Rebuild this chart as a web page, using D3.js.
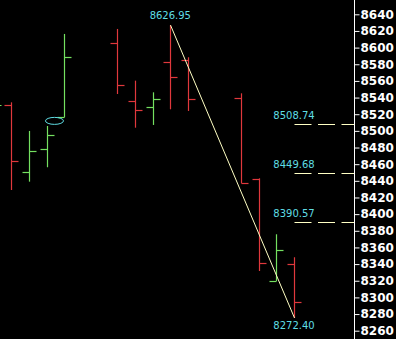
<!DOCTYPE html>
<html><head><meta charset="utf-8">
<script src="https://cdn.jsdelivr.net/npm/d3@7"></script>
<style>html,body{margin:0;padding:0;background:#000;overflow:hidden}</style>
</head><body>
<svg id="c" width="396" height="339"></svg>
<script>
// OHLC bars (slot index along the time axis; gaps are missing sessions)
const slots  = [-1, 0, 1, 2, 3, 6, 7, 8, 9, 10, 13, 14, 15, 16];
const opens  = [8500, 8530.7, 8450.2, 8477.9, 8517.0, 8605.2, 8535.9, 8528.3, 8582.4, 8584.8, 8539.1, 8441.8, 8319.7, 8340.1];
const highs  = [8545, 8534.3, 8499.9, 8505.9, 8616.4, 8622.4, 8560.3, 8546.3, 8626.95, 8588.4, 8545.1, 8443.0, 8375.8, 8348.2];
const lows   = [8490, 8429.0, 8439.0, 8456.3, 8516.3, 8544.3, 8503.8, 8507.1, 8525.9, 8523.9, 8437.0, 8331.7, 8319.7, 8275.3];
const closes = [8530.7, 8463.5, 8475.5, 8494.7, 8588.4, 8555.5, 8524.7, 8537.9, 8564.3, 8538.3, 8437.8, 8341.7, 8356.9, 8294.1];

// Annotations
const swingHigh = {slot: 9, label: "8626.95"};
const swingLow  = {slot: 16, label: "8272.40"};
const levels      = [8508.74, 8449.68, 8390.57];
const levelLabels = ["8508.74", "8449.68", "8390.57"];
const ellipse = {slot: 2.5, value: 8512};

// Y axis ticks
const yTicks = d3.range(8260, 8641, 20);

const svg = d3.select("#c");
svg.append("rect").attr("width", 396).attr("height", 339).attr("fill", "#000");

const x = d3.scaleLinear().domain([0, 16]).range([11.3, 294]);
const y = d3.scaleLinear().domain([8260, 8640]).range([330.7, 14.3]);
const px = v => Math.round(v) + 0.5;

const RED = "#e0383c", GREEN = "#74e060", CYAN = "#5fdde4", PALE = "#ffffc4";
const tick = 7;

const bars = slots.map((s, i) => ({s, o: opens[i], h: highs[i], l: lows[i], c: closes[i]}));
const g = svg.append("g");
bars.forEach(b => {
  const col = b.c >= b.o ? GREEN : RED;
  const cx = px(x(b.s));
  g.append("line").attr("x1", cx).attr("x2", cx).attr("y1", y(b.h)).attr("y2", y(b.l))
    .attr("stroke", col).attr("stroke-width", 1.2);
  g.append("line").attr("x1", cx - tick).attr("x2", cx).attr("y1", px(y(b.o))).attr("y2", px(y(b.o)))
    .attr("stroke", col).attr("stroke-width", 1.2);
  g.append("line").attr("x1", cx).attr("x2", cx + tick).attr("y1", px(y(b.c))).attr("y2", px(y(b.c)))
    .attr("stroke", col).attr("stroke-width", 1.2);
});

// ellipse marker
svg.append("ellipse").attr("cx", x(ellipse.slot) - 1).attr("cy", y(ellipse.value))
  .attr("rx", 9).attr("ry", 3.5).attr("fill", "none").attr("stroke", CYAN).attr("stroke-width", 1);

// swing line
const hb = bars.find(b => b.s === swingHigh.slot), lb = bars.find(b => b.s === swingLow.slot);
svg.append("line").attr("x1", px(x(hb.s))).attr("y1", y(hb.h)).attr("x2", px(x(lb.s))).attr("y2", y(lb.l))
  .attr("stroke", PALE).attr("stroke-width", 1);

const lblFont = "DejaVu Sans, sans-serif";
svg.append("text").attr("x", x(hb.s)).attr("y", y(hb.h) - 5.7).attr("text-anchor", "middle")
  .attr("font-family", lblFont).attr("font-size", 10).attr("fill", CYAN).text(swingHigh.label);
svg.append("text").attr("x", x(lb.s)).attr("y", y(lb.l) + 11.5).attr("text-anchor", "middle")
  .attr("font-family", lblFont).attr("font-size", 10).attr("fill", CYAN).text(swingLow.label);

// retracement levels
const axisX = 354.5;
levels.forEach((v, i) => {
  svg.append("line").attr("x1", px(x(lb.s))).attr("x2", axisX).attr("y1", px(y(v))).attr("y2", px(y(v)))
    .attr("stroke", PALE).attr("stroke-width", 1).attr("stroke-dasharray", "17,6.5");
  svg.append("text").attr("x", x(lb.s)).attr("y", y(v) - 4.5).attr("text-anchor", "middle")
    .attr("font-family", lblFont).attr("font-size", 10).attr("fill", CYAN).text(levelLabels[i]);
});

// right axis
const axis = d3.axisRight(y).tickValues(yTicks).tickSize(5).tickPadding(1).tickFormat(d3.format("d"));
const ag = svg.append("g").attr("transform", `translate(${axisX},0)`).call(axis);
ag.select(".domain").remove();
ag.append("line").attr("x1", 0).attr("x2", 0).attr("y1", 0).attr("y2", 339).attr("stroke", "#fff").attr("stroke-width", 1);
ag.selectAll(".tick line").attr("stroke", "#fff");
ag.selectAll(".tick text").attr("fill", "#fff").attr("font-family", "DejaVu Sans, sans-serif")
  .attr("font-weight", "bold").attr("font-size", 12);
</script>
</body></html>
